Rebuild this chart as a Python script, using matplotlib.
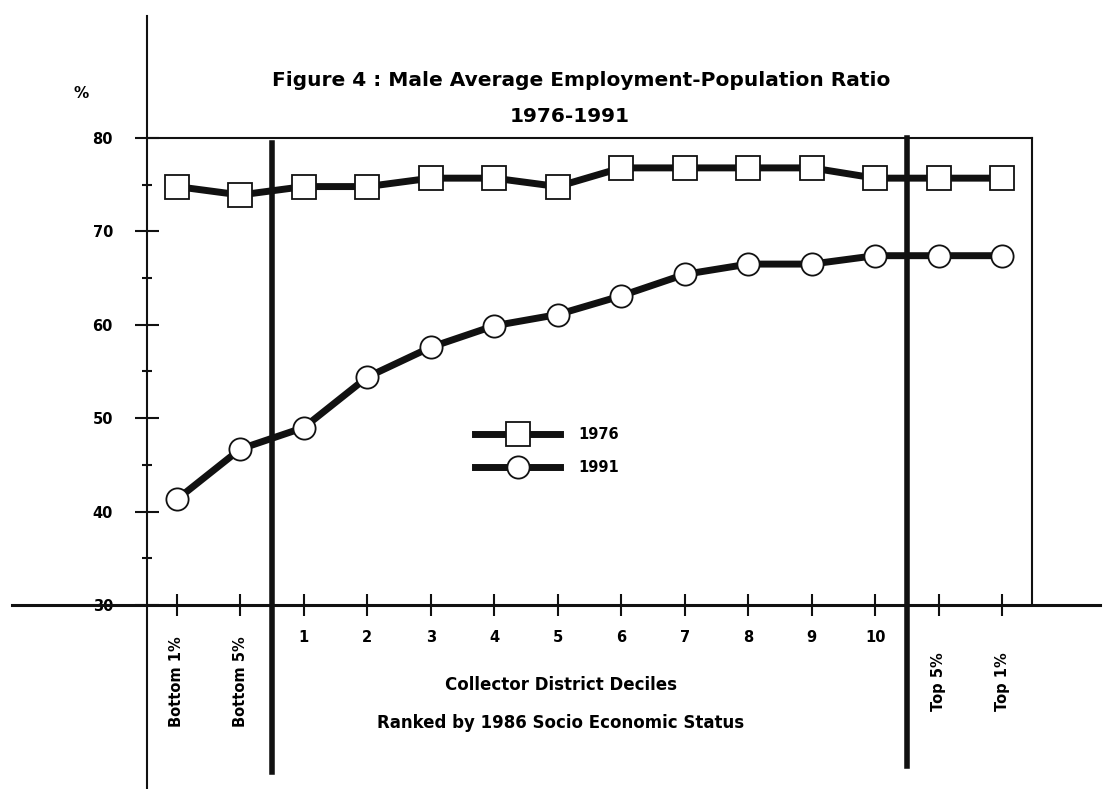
import matplotlib
matplotlib.use("Agg")
import matplotlib.pyplot as plt
from matplotlib import transforms

plt.rcParams['font.family'] = ['DejaVu Sans']
plt.rcParams['font.weight'] = 'bold'

# Collector district groups ranked by 1986 socio economic status
categories = ["Bottom 1%", "Bottom 5%", "1", "2", "3", "4", "5",
              "6", "7", "8", "9", "10", "Top 5%", "Top 1%"]
ratio_1976 = [74.8, 73.9, 74.8, 74.8, 75.7, 75.7, 74.8,
              76.8, 76.8, 76.8, 76.8, 75.7, 75.7, 75.7]
ratio_1991 = [41.3, 46.7, 49.0, 54.4, 57.6, 59.9, 61.1,
              63.1, 65.4, 66.5, 66.5, 67.4, 67.4, 67.4]
y_ticks = [30, 40, 50, 60, 70, 80]
separators = [1.5, 11.5]

W, H = 1112, 789
fig = plt.figure(figsize=(W / 100, H / 100), dpi=100)
ax = fig.add_axes([147 / W, 1 - 605 / H, (1032 - 147) / W, (605 - 138) / H])

ink = '#111111'
x = list(range(len(categories)))

ax.plot(x, ratio_1976, color=ink, lw=5, marker='s', ms=17, mfc='white',
        mec=ink, mew=1.3, label='1976', zorder=4)
ax.plot(x, ratio_1991, color=ink, lw=5, marker='o', ms=16, mfc='white',
        mec=ink, mew=1.3, label='1991', zorder=4)

ax.set_xlim(-0.47, 13.47)
ax.set_ylim(30, 80)

# box: top and right only, left/bottom lines drawn long across the figure
for s in ['left', 'bottom']:
    ax.spines[s].set_visible(False)
for s in ['top', 'right']:
    ax.spines[s].set_linewidth(1.5)
    ax.spines[s].set_color(ink)

fig.add_artist(plt.Line2D([147 / W, 147 / W], [1 - 16 / H, 0], color=ink, lw=1.5))
fig.add_artist(plt.Line2D([12 / W, 1100 / W], [1 - 605 / H, 1 - 605 / H], color=ink, lw=2.2))

# thick separators between bottom / deciles / top groups
blend = transforms.blended_transform_factory(ax.transData, fig.transFigure)
ax.plot([separators[0]] * 2, [1 - 143 / H, 1 - 772 / H], color=ink, lw=4,
        transform=blend, clip_on=False, zorder=5)
ax.plot([separators[1]] * 2, [1 - 138 / H, 1 - 766 / H], color=ink, lw=4,
        transform=blend, clip_on=False, zorder=5)

ax.set_yticks(y_ticks)
ax.set_yticks([35, 45, 55, 65, 75], minor=True)
ax.tick_params(axis='y', which='major', direction='inout', length=17, width=1.5,
               color=ink, labelsize=10.5, pad=16)
ax.tick_params(axis='y', which='minor', direction='inout', length=7, width=1.5, color=ink)

# digit deciles as tick labels, bottom/top groups as rotated text
ax.set_xticks(x)
ax.set_xticklabels([c if c.isdigit() else "" for c in categories])
ax.tick_params(axis='x', direction='inout', length=16, width=1.5, color=ink,
               labelsize=10.5, pad=10)
for i, c in enumerate(categories):
    if not c.isdigit():
        ax.text(i, 1 - 682 / H, c, rotation=90, ha='center', va='center',
                fontsize=10.5, fontweight='bold', transform=blend)

fig.text(581 / W, 1 - 80 / H, "Figure 4 : Male Average Employment-Population Ratio",
         ha='center', va='center', fontsize=14.5, fontweight='bold')
fig.text(570 / W, 1 - 117 / H, "1976-1991", ha='center', va='center',
         fontsize=14.5, fontweight='bold')
fig.text(81 / W, 1 - 94 / H, "%", ha='center', va='center', fontsize=11, fontweight='bold')
fig.text(561 / W, 1 - 685 / H, "Collector District Deciles", ha='center', va='center',
         fontsize=12, fontweight='bold')
fig.text(561 / W, 1 - 723 / H, "Ranked by 1986 Socio Economic Status", ha='center',
         va='center', fontsize=12, fontweight='bold')

ax.legend(loc='center left', bbox_to_anchor=(468 / W, 1 - 451 / H),
          bbox_transform=fig.transFigure, frameon=False, handlelength=5.8,
          handletextpad=1.25, labelspacing=1.2, borderpad=0, fontsize=10.5)

fig.savefig("out.png", dpi=100, facecolor='white')
